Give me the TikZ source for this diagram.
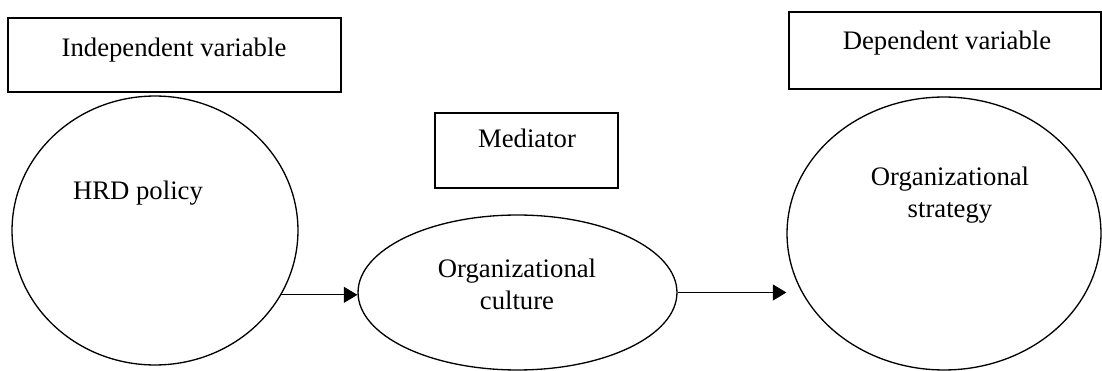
\documentclass[tikz,border=0pt]{standalone}
\usepackage{fontspec}
\setmainfont{Liberation Serif}
\usetikzlibrary{positioning}
\usetikzlibrary{shapes.geometric}
\usetikzlibrary{arrows.meta}

\begin{document}
\begin{tikzpicture}[x=0.02cm, y=-0.02cm,
  varbox/.style={draw, line width=0.75pt, rectangle, inner sep=0pt},
  varoval/.style={draw, line width=0.75pt, ellipse, inner sep=0pt},
  lbl/.style={align=center, inner sep=0pt, font=\fontsize{15.2}{18.2}\selectfont},
  link/.style={line width=0.5pt, -{Triangle[length=0.27cm,width=0.32cm]}}]
\useasboundingbox (0,0) rectangle (1102,371);

% boxes
\node[varbox, minimum width=6.66cm, minimum height=1.48cm] (indep) at (174.5,55) {};
\node[varbox, minimum width=3.66cm, minimum height=1.50cm] (medi) at (526.5,150.5) {};
\node[varbox, minimum width=6.24cm, minimum height=1.54cm] (dep) at (945,50.5) {};

\node[lbl, anchor=base] (indeptxt) at (174,57) {Independent variable};
\node[lbl, anchor=base] (meditxt) at (527,148) {Mediator};
\node[lbl, anchor=base] (deptxt) at (947,50) {Dependent variable};

% ovals
\node[varoval, minimum width=5.72cm, minimum height=5.38cm] (hrd) at (155,230.5) {};
\node[varoval, minimum width=6.38cm, minimum height=3.10cm] (culture) at (517.5,292.5) {};
\node[varoval, minimum width=6.28cm, minimum height=5.46cm] (strategy) at (944,233.5) {};

\node[lbl, anchor=base] (hrdtxt) at (138,200) {HRD policy};
\node[lbl] (culturetxt) at (517,284.5) {Organizational\\culture};
\node[lbl] (strategytxt) at (950,195.5) {Organizational\\strategy};

% arrows
\draw[link] (hrd.-27.5) -- (hrd.-27.5 -| culture.west);
\draw[link] (culture.east) -- (culture.east -| strategy.west);

\end{tikzpicture}
\end{document}
